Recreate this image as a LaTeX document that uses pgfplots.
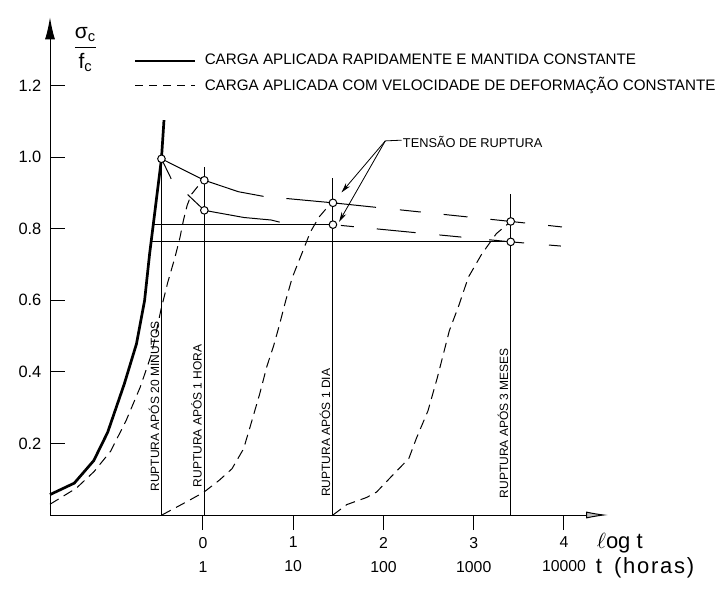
\documentclass[border=0pt]{standalone}
\usepackage{amsmath}
\usepackage{fontspec}
\setmainfont{Liberation Sans}
\usepackage{pgfplots}
\pgfplotsset{compat=1.18}
\usetikzlibrary{arrows.meta}

\begin{document}
\begin{tikzpicture}
\useasboundingbox (0,0) rectangle (363pt,-294pt);
\begin{axis}[
  at={(25pt,-257.5pt)}, anchor=south west,
  x=45.125pt, y=179pt,
  xmin=-1.695, xmax=4.49, ymin=0, ymax=1.39,
  clip=false,
  axis x line=bottom, axis y line=left,
  x axis line style={-{Latex[length=11pt,width=3.5pt,fill=gray!50]}, line width=0.5pt},
  y axis line style={-{Latex[length=11pt,width=5pt]}, line width=0.5pt},
  tick align=inside,
  major tick length=7.5pt,
  every tick/.style={black, line width=0.5pt},
  major x tick style={yshift=-7.5pt},
  xtick={0,1,2,3,4},
  xticklabels={{0\\1},{1\\10},{2\\100},{3\\1000},{4\\10000}},
  xticklabel style={align=center, font=\fontsize{7.9}{12}\selectfont, yshift=-7.5pt},
  ytick={0.2,0.4,0.6,0.8,1.0,1.2},
  yticklabel style={font=\fontsize{8.2}{9}\selectfont, xshift=-0.8pt,
    /pgf/number format/fixed, /pgf/number format/fixed zerofill,
    /pgf/number format/precision=1, /pgf/number format/assume math mode=true},
  legend cell align=left,
  legend style={at={(axis cs:-0.767,1.30)}, anchor=north west, draw=none, fill=none,
    inner sep=0pt, font=\fontsize{7.6}{9}\selectfont, row sep=1pt,
    /tikz/every odd column/.append style={column sep=2pt}},
  legend image code/.code={\draw[#1] (0pt,0pt) -- (30pt,0pt);},
]
\addlegendimage{black, line width=1.3pt}
\addlegendentry{CARGA APLICADA RAPIDAMENTE E MANTIDA CONSTANTE}
\addlegendimage{black, line width=0.5pt, dash pattern=on 4pt off 3pt}
\addlegendentry{CARGA APLICADA COM VELOCIDADE DE DEFORMAÇÃO CONSTANTE}

% carga rapida (thick)
\addplot[black, line width=1.35pt, forget plot] coordinates {
(-1.695,0.057) (-1.426,0.089) (-1.210,0.152) (-1.056,0.231) (-0.872,0.366)
(-0.737,0.478) (-0.647,0.599) (-0.591,0.730) (-0.46,0.995) (-0.432,1.103)};

% dashed loading curves
\addplot[black, line width=0.5pt, dash pattern=on 5pt off 3pt, forget plot] coordinates {
(-1.695,0.030) (-1.403,0.075) (-1.208,0.121) (-1.024,0.178) (-0.853,0.263)
(-0.694,0.358) (-0.568,0.451) (-0.467,0.572) (-0.39,0.650) (-0.31,0.720)
(-0.255,0.775) (-0.215,0.825) (-0.175,0.865) (-0.13,0.895) (-0.06,0.917) (0.015,0.935)};
\addplot[black, line width=0.5pt, dash pattern=on 5pt off 3pt, forget plot] coordinates {
(-0.455,0) (-0.181,0.037) (0.006,0.063) (0.180,0.097) (0.321,0.129) (0.450,0.185)
(0.523,0.247) (0.627,0.337) (0.709,0.416) (0.782,0.472) (0.844,0.528) (0.916,0.598)
(0.989,0.663) (1.095,0.730) (1.189,0.790) (1.285,0.832) (1.373,0.858) (1.44,0.872)};
\addplot[black, line width=0.5pt, dash pattern=on 5pt off 3pt, forget plot] coordinates {
(1.44,0) (1.593,0.029) (1.813,0.049) (1.923,0.064) (2.097,0.110) (2.281,0.158)
(2.366,0.215) (2.493,0.291) (2.596,0.383) (2.730,0.515) (2.836,0.586) (2.940,0.664)
(3.089,0.729) (3.251,0.786) (3.41,0.820)};

% upper envelope
\addplot[black, line width=0.5pt, forget plot] coordinates {
(-0.46,0.995) (0.015,0.935) (0.393,0.903) (0.671,0.890)};
\addplot[black, line width=0.5pt, forget plot,
  dash pattern=on 0pt off 11.5pt on 45pt off 12pt on 10.5pt off 11.5pt on 12pt off 11.5pt on 17.5pt off 11.5pt on 7pt off 30pt]
  coordinates {(0.671,0.890) (1.44,0.872) (3.41,0.820) (4.0,0.804)};
% lower envelope
\addplot[black, line width=0.5pt, forget plot] coordinates {
(-0.17,0.895) (0.015,0.851) (0.454,0.831) (0.755,0.824) (0.85,0.818)};
\addplot[black, line width=0.5pt, forget plot,
  dash pattern=on 0pt off 4pt on 6.5pt off 11.5pt on 19.5pt off 12pt on 11pt off 14pt on 17.5pt off 12.5pt on 6pt off 30pt]
  coordinates {(1.44,0.811) (3.41,0.763) (3.98,0.751)};

% sustained load lines
\addplot[black, line width=0.5pt, forget plot] coordinates {(-0.556,0.811) (1.44,0.811)};
\addplot[black, line width=0.5pt, forget plot] coordinates {(-0.577,0.763) (3.41,0.763)};

% short tick at first rupture point
\addplot[black, line width=0.5pt, forget plot] coordinates {(-0.46,0.995) (-0.352,0.939)};

% rupture verticals
\addplot[black, line width=0.5pt, forget plot] coordinates {(-0.46,0) (-0.46,0.995)};
\addplot[black, line width=0.5pt, forget plot] coordinates {(0.015,0) (0.015,0.971)};
\addplot[black, line width=0.5pt, forget plot] coordinates {(1.44,0) (1.44,0.942)};
\addplot[black, line width=0.5pt, forget plot] coordinates {(3.41,0) (3.41,0.896)};

% rupture points
\addplot[only marks, mark=*, mark size=1.9pt, mark options={fill=white, draw=black, line width=0.5pt}, forget plot]
  coordinates {(-0.46,0.995) (0.015,0.935) (0.015,0.851) (1.44,0.872) (1.44,0.811) (3.41,0.820) (3.41,0.763)};

% labels along verticals
\node[rotate=90, anchor=base west, inner sep=0pt, font=\fontsize{6}{7}\selectfont] at (axis cs:-0.485,0.065) {RUPTURA APÓS 20 MINUTOS};
\node[rotate=90, anchor=base west, inner sep=0pt, font=\fontsize{6}{7}\selectfont] at (axis cs:-0.015,0.077) {RUPTURA APÓS 1 HORA};
\node[rotate=90, anchor=base west, inner sep=0pt, font=\fontsize{6}{7}\selectfont] at (axis cs:1.41,0.05) {RUPTURA APÓS 1 DIA};
\node[rotate=90, anchor=base west, inner sep=0pt, font=\fontsize{6}{7}\selectfont] at (axis cs:3.38,0.046) {RUPTURA APÓS 3 MESES};

% tensao de ruptura annotation
\draw[black, line width=0.4pt] (axis cs:2.02,1.045) -- (axis cs:2.2,1.047);
\draw[black, line width=0.4pt, -{Stealth[length=5pt,width=2.6pt]}] (axis cs:2.02,1.045) -- (axis cs:1.535,0.901);
\draw[black, line width=0.4pt, -{Stealth[length=5pt,width=2.6pt]}] (axis cs:2.02,1.045) -- (axis cs:1.508,0.819);
\node[anchor=west, inner sep=0.5pt, font=\fontsize{6.4}{7}\selectfont] at (axis cs:2.2,1.043) {TENSÃO DE RUPTURA};

% axis labels
\node[font=\fontsize{10.5}{12}\selectfont] at (axis cs:-1.30,1.30) {$\dfrac{\text{σ}_{\text{c}}}{\text{f}_{\text{c}}}$};
\node[anchor=west, inner sep=0pt, font=\fontsize{11}{13}\selectfont] at (axis cs:4.36,-0.08) {$\ell$og t};
\node[anchor=west, inner sep=0pt, font=\fontsize{11}{13}\selectfont] at (axis cs:4.35,-0.147) {t\hspace{6pt}{\addfontfeatures{LetterSpace=8}(horas)}};
\end{axis}
\end{tikzpicture}
\end{document}
